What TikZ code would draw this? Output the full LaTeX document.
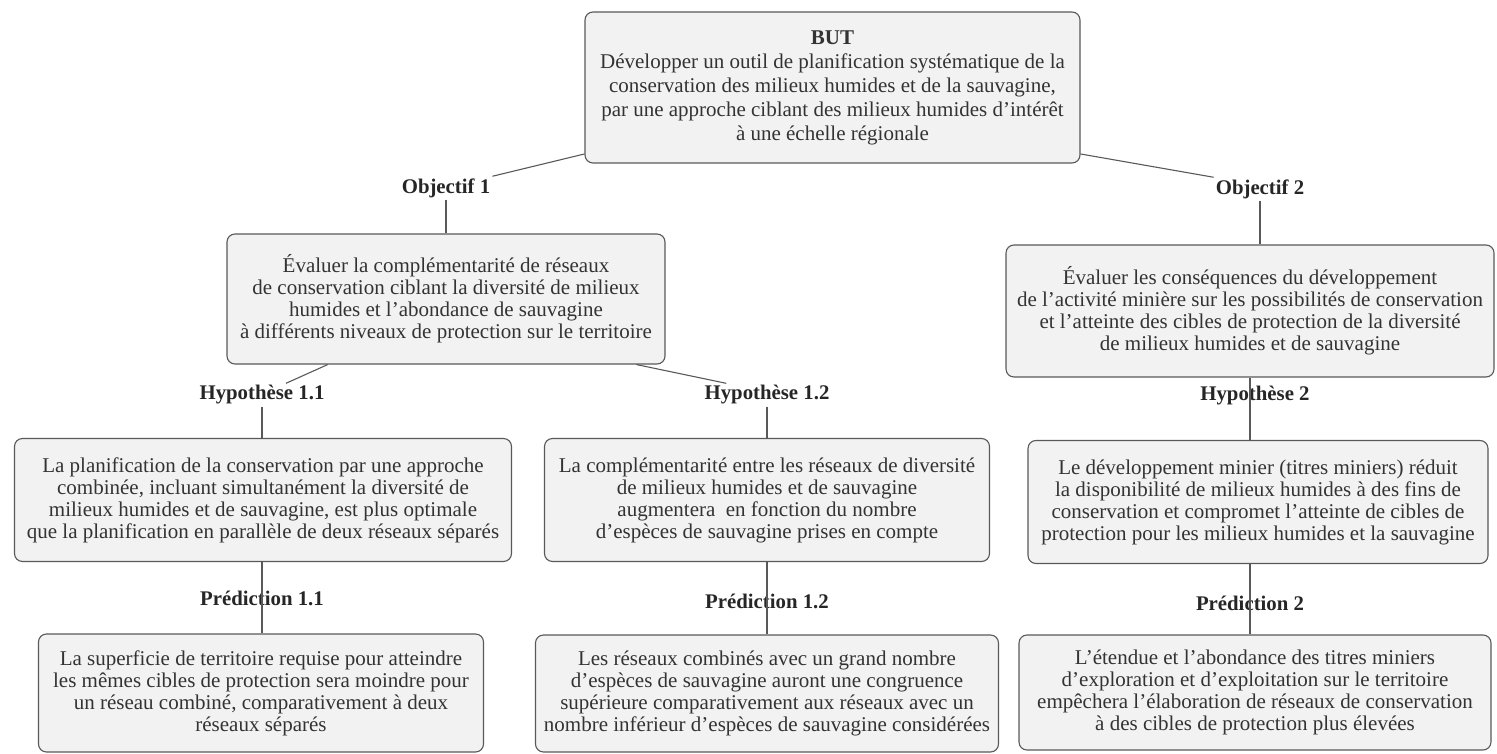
\documentclass[tikz,border=0pt]{standalone}
\usepackage{fontspec}
\setmainfont{Liberation Serif}
\usepackage{tikz}

\begin{document}
\begin{tikzpicture}[x=1pt,y=-1pt,
  boite/.style={draw=black!65,fill=black!5,rounded corners=8pt,line width=1.1pt,align=center,text=black!80,font=\fontsize{21}{22}\selectfont},
  titre/.style={font=\bfseries\fontsize{20.8}{22}\selectfont,text=black!85,inner sep=2pt},
  lien/.style={draw=black!65,line width=1.1pt}]
\useasboundingbox (0,0) rectangle (1497,754);
\node [boite,minimum width=495,minimum height=151,font=\fontsize{21}{24}\selectfont] (but) at (832.5,87.5) {\textbf{BUT}\\
  Développer un outil de planification systématique de la\\
  conservation des milieux humides et de la sauvagine,\\
  par une approche ciblant des milieux humides d'intérêt\\
  à une échelle régionale};
\node [titre] (obj1) at (446,188) {Objectif 1};
\node [titre] (obj2) at (1260,189) {Objectif 2};
\node [boite,minimum width=438,minimum height=130] (o1) at (446,299) {Évaluer la complémentarité de réseaux\\
  de conservation ciblant la diversité de milieux\\
  humides et l'abondance de sauvagine\\
  à différents niveaux de protection sur le territoire};
\node [boite,minimum width=488,minimum height=132] (o2) at (1250,311) {Évaluer les conséquences du développement\\
  de l'activité minière sur les possibilités de conservation\\
  et l'atteinte des cibles de protection de la diversité\\
  de milieux humides et de sauvagine};
\node [titre] (hyp11) at (262,395) {Hypothèse 1.1};
\node [titre] (hyp12) at (767,395) {Hypothèse 1.2};
\node [titre] (hyp2) at (1255,396) {Hypothèse 2};
\node [boite,minimum width=497,minimum height=123] (h11) at (263,500) {La planification de la conservation par une approche\\
  combinée, incluant simultanément la diversité de\\
  milieux humides et de sauvagine, est plus optimale\\
  que la planification en parallèle de deux réseaux séparés};
\node [boite,minimum width=445,minimum height=123] (h12) at (767,500) {La complémentarité entre les réseaux de diversité\\
  de milieux humides et de sauvagine\\
  augmentera\ \ en fonction du nombre\\
  d'espèces de sauvagine prises en compte};
\node [boite,minimum width=460,minimum height=123] (h2) at (1258,502) {Le développement minier (titres miniers) réduit\\
  la disponibilité de milieux humides à des fins de\\
  conservation et compromet l'atteinte de cibles de\\
  protection pour les milieux humides et la sauvagine};
\node [titre] (pred11) at (262,598) {Prédiction 1.1};
\node [titre] (pred12) at (767,601) {Prédiction 1.2};
\node [titre] (pred2) at (1250,603) {Prédiction 2};
\node [boite,minimum width=445,minimum height=118] (p11) at (261,693) {La superficie de territoire requise pour atteindre\\
  les mêmes cibles de protection sera moindre pour\\
  un réseau combiné, comparativement à deux\\
  réseaux séparés};
\node [boite,minimum width=463,minimum height=117] (p12) at (767,693.5) {Les réseaux combinés avec un grand nombre\\
  d'espèces de sauvagine auront une congruence\\
  supérieure comparativement aux réseaux avec un\\
  nombre inférieur d'espèces de sauvagine considérées};
\node [boite,minimum width=472,minimum height=115] (p2) at (1255,692.5) {L'étendue et l'abondance des titres miniers\\
  d'exploration et d'exploitation sur le territoire\\
  empêchera l'élaboration de réseaux de conservation\\
  à des cibles de protection plus élevées};
\draw [lien] (but.195) -- (obj1.north east);
\draw [lien] (but.345) -- (obj2.north west);
\draw [lien] (obj1.south) -- (o1.north);
\draw [lien] (obj2.south) -- (obj2.south |- o2.north);
\draw [lien] (o1.209) -- (hyp11.26);
\draw [lien] (o1.341) -- (hyp12.164);
\draw [lien] (o2.south) -- (o2.south |- h2.north);
\draw [lien] (hyp11.south) -- (hyp11.south |- h11.north);
\draw [lien] (hyp12.south) -- (h12.north);
\draw [lien] (hyp11.south |- h11.south) -- (hyp11.south |- p11.north);
\draw [lien] (h12.south) -- (p12.north);
\draw [lien] (o2.south |- h2.south) -- (o2.south |- p2.north);
\end{tikzpicture}
\end{document}
